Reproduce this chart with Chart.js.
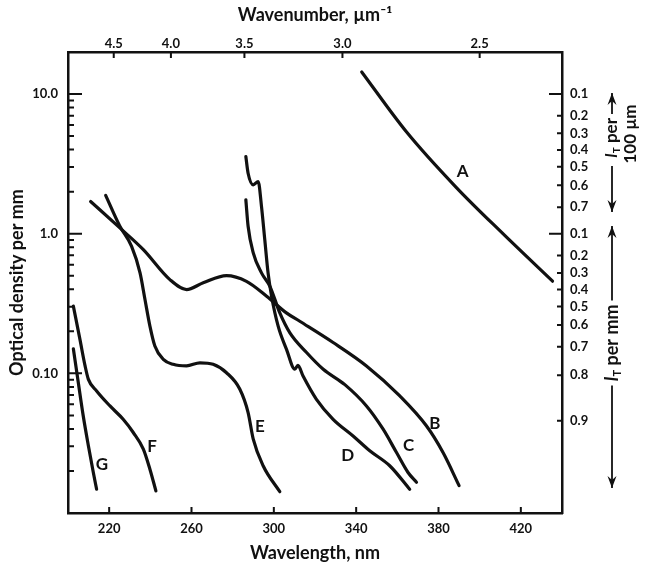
<!DOCTYPE html>
<html>
<head>
<meta charset="utf-8">
<script src="https://cdn.jsdelivr.net/npm/chart.js@4.4.1/dist/chart.umd.min.js"></script>
<style>
  html, body { margin: 0; padding: 0; background: #fff; }
  #wrap { width: 646px; height: 568px; }
</style>
</head>
<body>
<div id="wrap"><canvas id="chart" width="646" height="568"></canvas></div>
<script>
// curves: wavelength in nm, optical density per mm
const curveA_nm = [342.7, 364.4, 388.7, 411.3, 435.4];
const curveA_od = [14.4, 5.37, 2.14, 1.0, 0.457];

const curveB_nm = [211.0, 225.2, 236.6, 249.5, 257.6, 265.7, 277.0, 286.7, 296.5, 306.1, 312.6, 328.6, 345.0, 361.2, 374.1, 382.2, 390.0];
const curveB_od = [1.70, 1.10, 0.769, 0.469, 0.398, 0.445, 0.501, 0.456, 0.357, 0.271, 0.236, 0.167, 0.113, 0.0689, 0.0421, 0.0271, 0.0157];

const curveC_nm = [286.4, 287.5, 290.0, 294.0, 298.1, 302.9, 307.8, 315.9, 324.0, 334.5, 345.0, 353.1, 359.6, 365.2, 369.3];
const curveC_od = [1.75, 1.13, 0.728, 0.524, 0.42, 0.271, 0.195, 0.141, 0.107, 0.083, 0.0584, 0.0398, 0.0271, 0.0195, 0.0166];

const curveD_nm = [286.4, 287.5, 290.0, 292.4, 294.0, 295.6, 297.2, 298.9, 302.1, 306.2, 310.2, 311.7, 314.2, 320.7, 328.8, 338.5, 346.6, 356.3, 366.0];
const curveD_od = [3.57, 2.71, 2.24, 2.36, 1.57, 0.906, 0.524, 0.357, 0.218, 0.148, 0.107, 0.114, 0.0957, 0.0652, 0.0469, 0.0356, 0.0279, 0.0218, 0.0148];

const curveE_nm = [218.3, 225.2, 230.9, 235.0, 237.4, 239.8, 242.2, 246.3, 251.1, 257.6, 264.1, 270.5, 277.0, 283.5, 287.5, 290.0, 294.8, 302.9];
const curveE_od = [1.88, 1.13, 0.811, 0.524, 0.338, 0.218, 0.157, 0.126, 0.116, 0.113, 0.119, 0.116, 0.101, 0.0769, 0.0524, 0.0338, 0.0218, 0.0142];

const curveF_nm = [202.6, 205.8, 208.3, 209.9, 213.9, 220.4, 226.8, 231.7, 236.6, 239.8, 242.7];
const curveF_od = [0.303, 0.175, 0.113, 0.0906, 0.0748, 0.0584, 0.0469, 0.0377, 0.0287, 0.0206, 0.0144];

const curveG_nm = [202.6, 205.0, 207.4, 209.9, 212.3, 213.9];
const curveG_od = [0.150, 0.0859, 0.0496, 0.0303, 0.0195, 0.0148];

// letter beside each curve (data coordinates)
const curveNames = ['A', 'B', 'C', 'D', 'E', 'F', 'G'];
const nameAt_nm = [391.7, 378.2, 365.5, 335.9, 293.2, 240.8, 216.5];
const nameAt_od = [2.77, 0.044, 0.0306, 0.026, 0.0418, 0.0301, 0.0224];

// axes
const wavelengthTicks = [220, 260, 300, 340, 380, 420];
const wavenumberTicks = [4.5, 4.0, 3.5, 3.0, 2.5];
const densityLabels = [10, 1, 0.1];
const transPer100um = [0.1, 0.2, 0.3, 0.4, 0.5, 0.6, 0.7];
const transPerMm = [0.1, 0.2, 0.3, 0.4, 0.5, 0.6, 0.7, 0.8, 0.9];

const curves = [
    [curveA_nm, curveA_od], [curveB_nm, curveB_od], [curveC_nm, curveC_od],
    [curveD_nm, curveD_od], [curveE_nm, curveE_od], [curveF_nm, curveF_od],
    [curveG_nm, curveG_od]
];

const FONT = 'Lato';

// transmittance -> optical density per mm (100 um layer counts 10x)
let rightTicks = [];
for (let i = 0; i < transPer100um.length; i++) {
    rightTicks.push({ value: -Math.log10(transPer100um[i]) * 10, label: transPer100um[i].toFixed(1) });
}
for (let i = 0; i < transPerMm.length; i++) {
    rightTicks.push({ value: -Math.log10(transPerMm[i]), label: transPerMm[i].toFixed(1) });
}

let datasets = [];
for (let i = 0; i < curves.length; i++) {
    let pts = [];
    for (let k = 0; k < curves[i][0].length; k++) {
        pts.push({ x: curves[i][0][k], y: curves[i][1][k] });
    }
    datasets.push({
        label: curveNames[i],
        data: pts,
        showLine: true,
        borderColor: '#111',
        borderWidth: 3.2,
        pointRadius: 0,
        cubicInterpolationMode: 'monotone',
        borderCapStyle: 'round',
        borderJoinStyle: 'round',
        xAxisID: 'x',
        yAxisID: 'y'
    });
}

function measureIT(ctx, rest, size) {
    ctx.font = 'italic bold ' + size + 'px ' + FONT;
    let wI = ctx.measureText('I').width;
    ctx.font = 'bold ' + Math.round(size * 0.6) + 'px ' + FONT;
    let wT = ctx.measureText('T').width;
    ctx.font = 'bold ' + size + 'px ' + FONT;
    let wR = ctx.measureText(rest).width;
    return [wI, wT, wR];
}

function drawIT(ctx, x, y, rest, size) {
    // italic I with subscript T, then the rest, centred on (x, y) in current frame
    let [wI, wT, wR] = measureIT(ctx, rest, size);
    let x0 = x - (wI + wT + wR) / 2;
    ctx.textBaseline = 'middle';
    ctx.textAlign = 'left';
    ctx.font = 'italic bold ' + size + 'px ' + FONT;
    ctx.fillText('I', x0, y);
    ctx.font = 'bold ' + Math.round(size * 0.6) + 'px ' + FONT;
    ctx.fillText('T', x0 + wI, y + size * 0.3);
    ctx.font = 'bold ' + size + 'px ' + FONT;
    ctx.fillText(rest, x0 + wI + wT, y);
    return wI + wT + wR;
}

function arrow(ctx, x, y1, y2) {
    // line from y1 to y2 with head at y2
    ctx.beginPath();
    ctx.moveTo(x, y1);
    ctx.lineTo(x, y2);
    ctx.stroke();
    let d = y2 > y1 ? 1 : -1;
    ctx.beginPath();
    ctx.moveTo(x, y2);
    ctx.lineTo(x - 4.5, y2 - d * 12);
    ctx.lineTo(x, y2 - d * 8);
    ctx.lineTo(x + 4.5, y2 - d * 12);
    ctx.closePath();
    ctx.fill();
}

const figureExtras = {
    id: 'figureExtras',
    afterDraw(chart) {
        const ctx = chart.ctx;
        const area = chart.chartArea;
        const sx = chart.scales.x, sx2 = chart.scales.x2, sy = chart.scales.y, sy2 = chart.scales.y2;
        ctx.save();
        ctx.strokeStyle = '#111';
        ctx.fillStyle = '#111';
        ctx.lineWidth = 2;

        // inward tick marks
        ctx.beginPath();
        sy.ticks.forEach(t => {
            let p = sy.getPixelForValue(t.value);
            let len = densityLabels.includes(t.value) ? 14 : 6;
            ctx.moveTo(area.left, p);
            ctx.lineTo(area.left + len, p);
        });
        sy2.ticks.forEach((t, i) => {
            let p = sy2.getPixelForValue(t.value);
            let len = rightTicks[i].label === '0.1' ? 13 : 5;
            ctx.moveTo(area.right, p);
            ctx.lineTo(area.right - len, p);
        });
        sx.ticks.forEach(t => {
            let p = sx.getPixelForValue(t.value);
            ctx.moveTo(p, area.bottom);
            ctx.lineTo(p, area.bottom - 6);
        });
        sx2.ticks.forEach(t => {
            let p = sx2.getPixelForValue(t.value);
            ctx.moveTo(p, area.top);
            ctx.lineTo(p, area.top + 6);
        });
        ctx.stroke();

        // curve letters
        ctx.font = 'bold 17px ' + FONT;
        ctx.textAlign = 'center';
        ctx.textBaseline = 'middle';
        for (let i = 0; i < curveNames.length; i++) {
            ctx.fillText(curveNames[i], sx.getPixelForValue(nameAt_nm[i]), sy.getPixelForValue(nameAt_od[i]));
        }

        // transmittance annotations on the right
        ctx.lineWidth = 1.8;
        let ax = 612;
        arrow(ctx, ax, 114, 93);
        arrow(ctx, ax, 166, 212);
        ctx.save();
        ctx.translate(ax, 138);
        ctx.rotate(-Math.PI / 2);
        drawIT(ctx, 0, 0, ' per', 17);
        ctx.font = 'bold 17px ' + FONT;
        ctx.textAlign = 'center';
        ctx.fillText('100 \u00b5m', 4, 19);
        ctx.restore();

        let midY = 343;
        let w = measureIT(ctx, ' per mm', 18).reduce((a, b) => a + b, 0);
        arrow(ctx, ax, midY - w / 2 - 4, 226);
        arrow(ctx, ax, midY + w / 2 + 4, 488);
        ctx.save();
        ctx.translate(ax, midY);
        ctx.rotate(-Math.PI / 2);
        drawIT(ctx, 0, 0, ' per mm', 18);
        ctx.restore();

        ctx.restore();
    }
};

const tickFont = { family: FONT, size: 13, weight: 'bold' };
const titleFont = { family: FONT, size: 18, weight: 'bold' };

new Chart(document.getElementById('chart'), {
    type: 'scatter',
    data: { datasets: datasets },
    options: {
        responsive: false,
        animation: false,
        devicePixelRatio: 1,
        layout: { padding: 0 },
        plugins: { legend: { display: false }, tooltip: { enabled: false } },
        scales: {
            x: {
                type: 'linear',
                position: 'bottom',
                min: 200,
                max: 440,
                afterBuildTicks: s => { s.ticks = wavelengthTicks.map(v => ({ value: v })); },
                afterFit: s => { s.height = 55; },
                grid: { display: false },
                border: { display: true, color: '#111', width: 2.5 },
                ticks: { color: '#111', font: tickFont, padding: 0, autoSkip: false, maxRotation: 0 },
                title: { display: true, text: 'Wavelength, nm', color: '#111', font: titleFont, padding: { top: 4, bottom: 4 } }
            },
            x2: {
                type: 'linear',
                axis: 'x',
                position: 'top',
                min: 200,
                max: 440,
                afterBuildTicks: s => { s.ticks = wavenumberTicks.map(v => ({ value: 1000 / v })); },
                afterFit: s => { s.height = 52; },
                grid: { display: false },
                border: { display: true, color: '#111', width: 2.5 },
                ticks: {
                    color: '#111', font: tickFont, padding: -8, autoSkip: false, maxRotation: 0,
                    callback: (v, i) => wavenumberTicks[i].toFixed(1)
                },
                title: { display: true, text: 'Wavenumber, \u00b5m\u207b\u00b9', color: '#111', font: titleFont, padding: { top: 4, bottom: 6 } }
            },
            y: {
                type: 'logarithmic',
                position: 'left',
                min: 0.01,
                max: 20,
                afterBuildTicks: s => {
                    let t = [];
                    [0.01, 0.1, 1, 10].forEach(d => {
                        for (let m = 1; m <= 9; m++) {
                            let v = +(d * m).toPrecision(3);
                            if (v <= 10) t.push({ value: v });
                        }
                    });
                    s.ticks = t;
                },
                afterFit: s => { s.width = 68; },
                grid: { display: false },
                border: { display: true, color: '#111', width: 2.5 },
                ticks: {
                    color: '#111', font: tickFont, padding: 2, autoSkip: false,
                    callback: v => v === 10 ? '10.0' : v === 1 ? '1.0' : v === 0.1 ? '0.10' : ''
                },
                title: { display: true, text: 'Optical density per mm', color: '#111', font: titleFont, padding: { top: 6, bottom: 2 } }
            },
            y2: {
                type: 'logarithmic',
                axis: 'y',
                position: 'right',
                min: 0.01,
                max: 20,
                afterBuildTicks: s => { s.ticks = rightTicks.map(t => ({ value: t.value })); },
                afterFit: s => { s.width = 84; },
                grid: { display: false },
                border: { display: true, color: '#111', width: 2.5 },
                ticks: {
                    color: '#111', font: { family: FONT, size: 13, weight: 'bold' }, padding: 0, autoSkip: false,
                    callback: (v, i) => rightTicks[i].label
                }
            }
        }
    },
    plugins: [figureExtras]
});
</script>
</body>
</html>
